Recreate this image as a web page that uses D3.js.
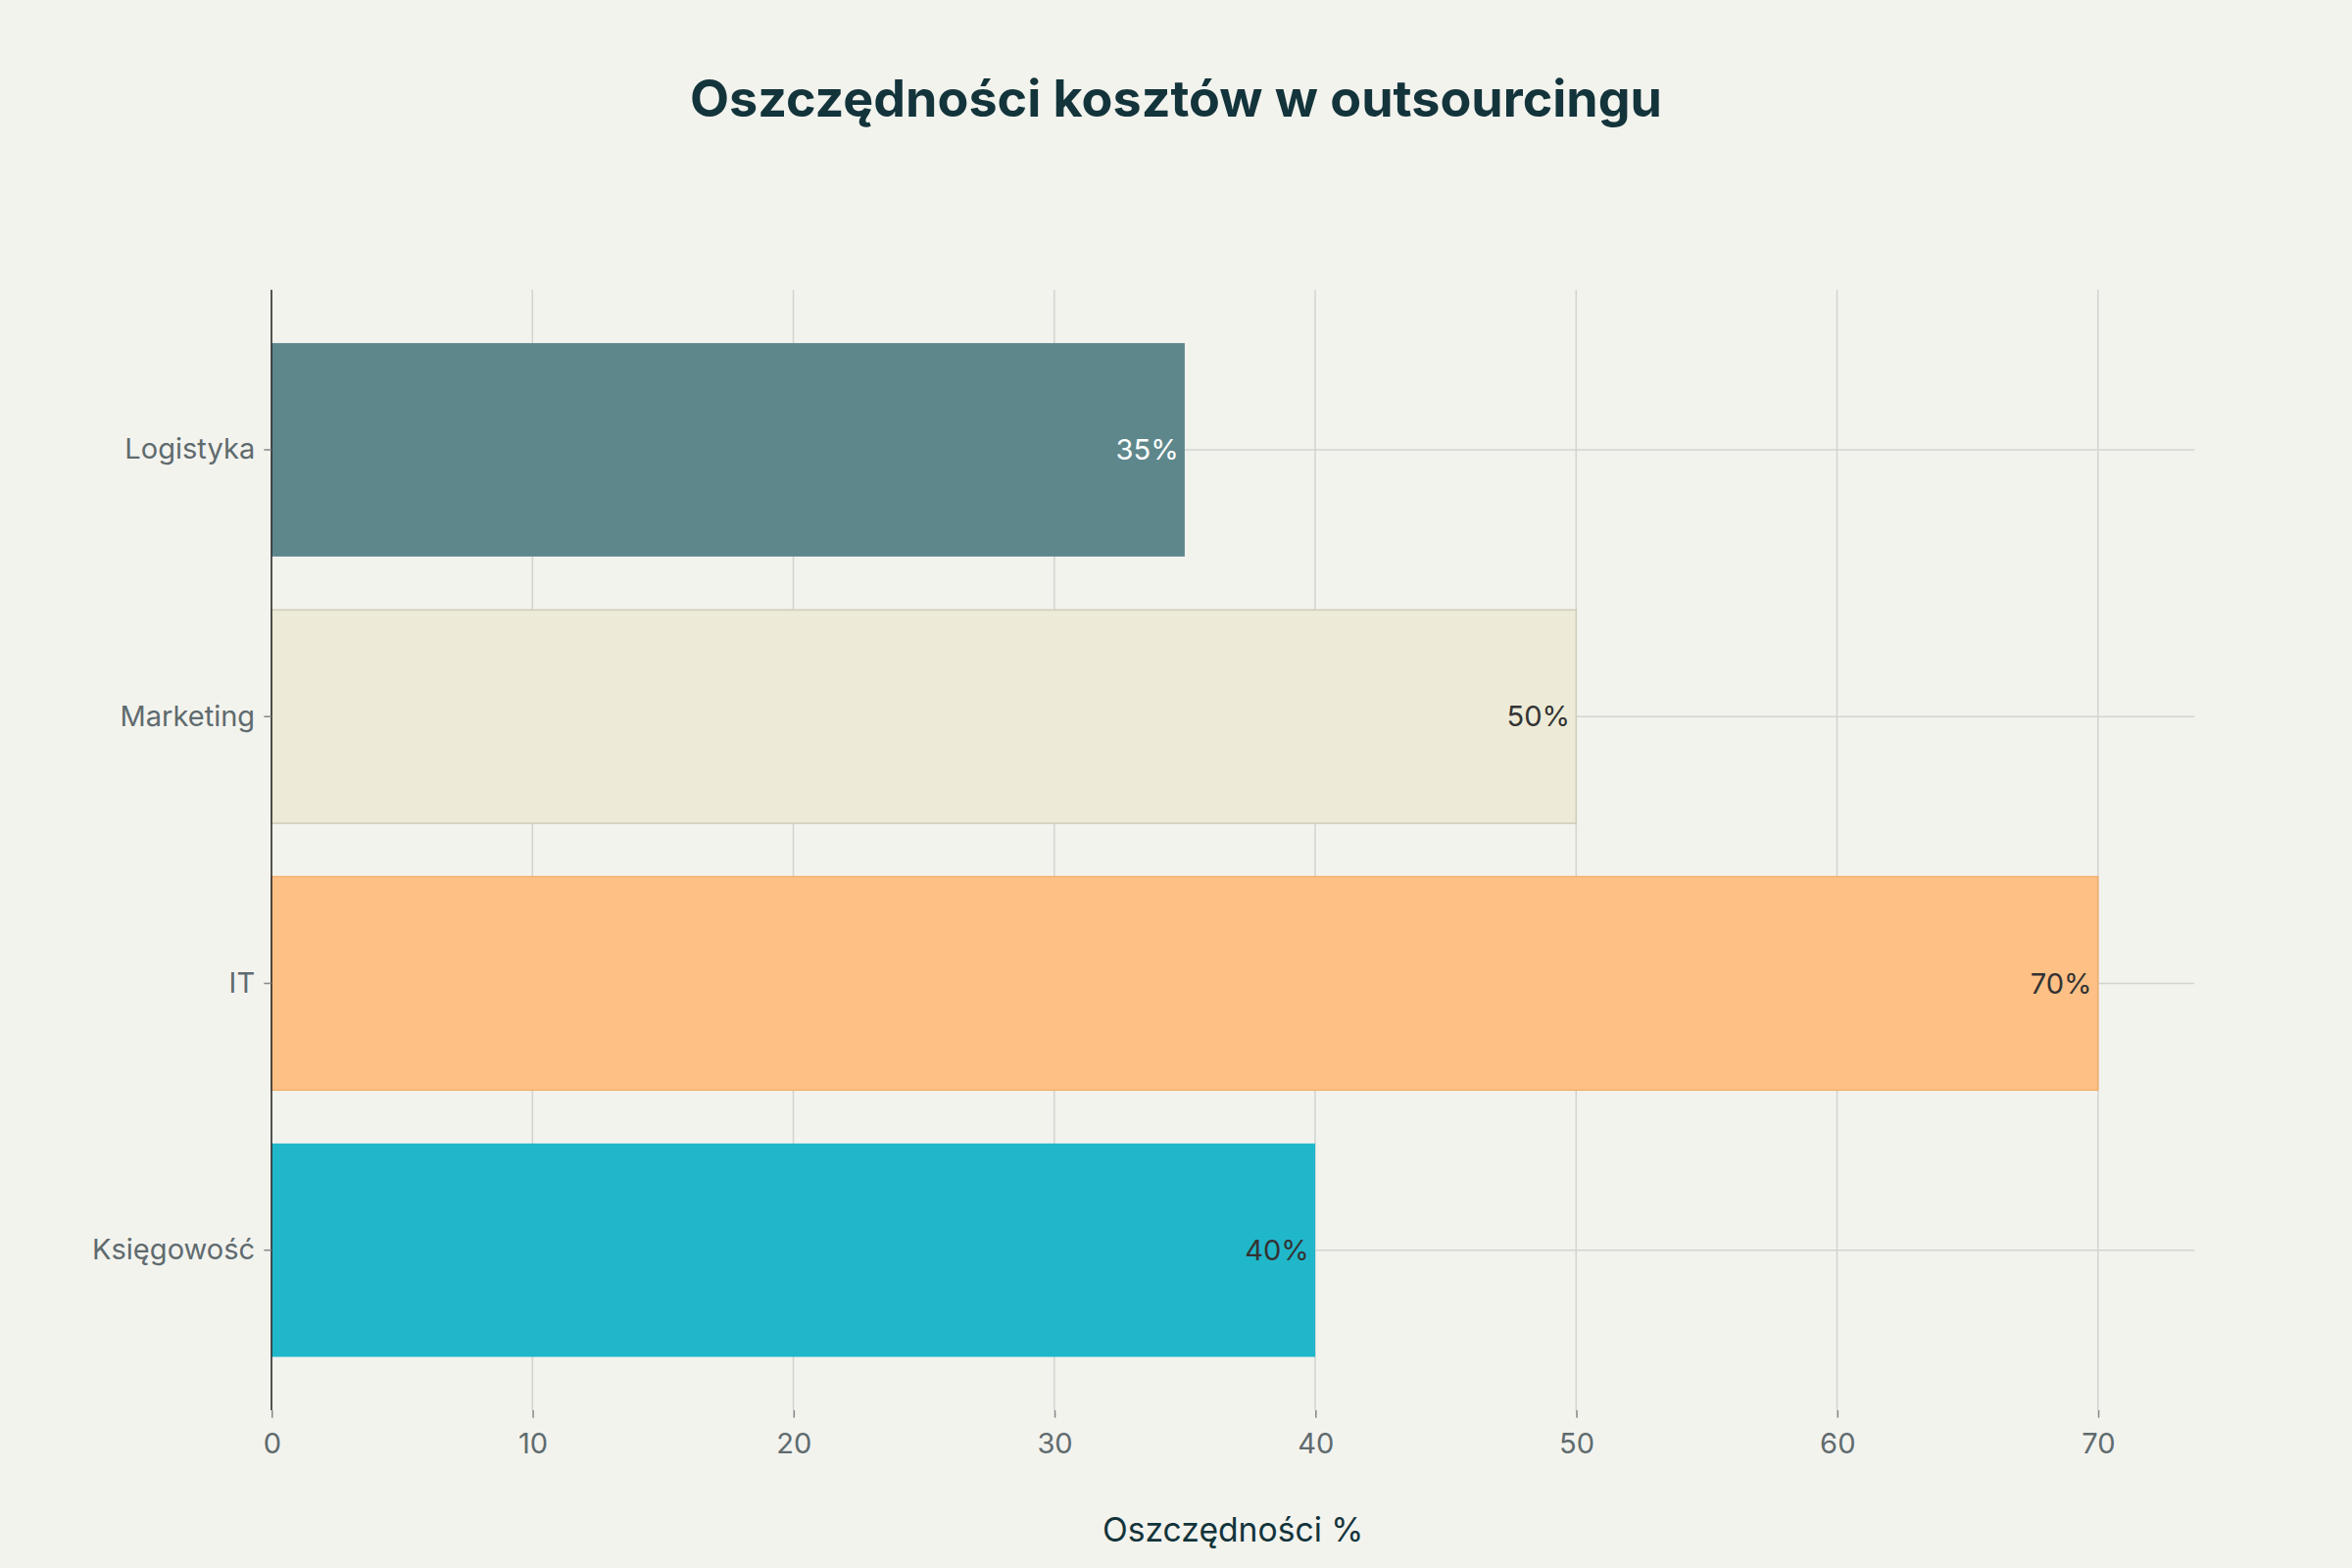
<!DOCTYPE html>
<html><head><meta charset="utf-8">
<script src="https://cdn.jsdelivr.net/npm/d3@7"></script>
<style>html,body{margin:0;padding:0;background:#F3F3EE;}</style>
</head><body>
<svg id="c" width="2400" height="1600" viewBox="0 0 1568 1045"></svg>
<script>
const categories = ["Logistyka","Marketing","IT","Księgowość"];
const values = [35,50,70,40];
const colors = ["#5E878C","#EDEBD7","#FFC085","#21B7CB"];
const labelColors = ["#ffffff","#333333","#333333","#333333"];
const xTicks = [0,10,20,30,40,50,60,70];

const svg = d3.select("#c");
const font = "'Inter','Liberation Sans',sans-serif";
svg.append("rect").attr("width",1568).attr("height",1045).attr("fill","#F3F3EE");
const L=181,R=1463,T=193,B=940;
const x = d3.scaleLinear().domain([0,73.7]).range([L,R]);
const y = d3.scaleBand().domain(categories).range([T,B]).padding(0.2);

const g = svg.append("g");
g.selectAll(".vg").data(xTicks.slice(1)).join("line")
 .attr("x1",d=>x(d)).attr("x2",d=>x(d)).attr("y1",T).attr("y2",B)
 .attr("stroke","#d3d3d0").attr("stroke-width",1);
g.selectAll(".hg").data(categories).join("line")
 .attr("x1",L).attr("x2",R).attr("y1",d=>y(d)+y.bandwidth()/2).attr("y2",d=>y(d)+y.bandwidth()/2)
 .attr("stroke","#d3d3d0").attr("stroke-width",1);

g.selectAll(".bar").data(categories).join("rect")
 .attr("x",x(0)).attr("y",d=>y(d)).attr("height",y.bandwidth())
 .attr("width",(d,i)=>x(values[i])-x(0))
 .attr("fill",(d,i)=>colors[i])
 .attr("stroke",(d,i)=>i===1?"#cfccb8":(i===2?"#f0b070":"none")).attr("stroke-width",1);

g.selectAll(".lbl").data(categories).join("text")
 .attr("x",(d,i)=>x(values[i])-4).attr("y",d=>y(d)+y.bandwidth()/2)
 .attr("dy","0.35em").attr("text-anchor","end")
 .attr("font-family",font).attr("font-size",19)
 .attr("fill",(d,i)=>labelColors[i]).text((d,i)=>values[i]+"%");

g.append("line").attr("x1",L).attr("x2",L).attr("y1",T).attr("y2",B).attr("stroke","#222").attr("stroke-width",1);

const xa = svg.append("g").attr("transform",`translate(0,${B})`)
 .call(d3.axisBottom(x).tickValues(xTicks).tickSize(5).tickPadding(10));
xa.select(".domain").remove();
xa.selectAll("line").attr("stroke","#888");
xa.selectAll("text").attr("font-family",font).attr("font-size",19).attr("fill","#5f6b6e");

const ya = svg.append("g").attr("transform",`translate(${L},0)`)
 .call(d3.axisLeft(y).tickSize(5).tickPadding(6));
ya.select(".domain").remove();
ya.selectAll("line").attr("stroke","#888");
ya.selectAll("text").attr("font-family",font).attr("font-size",19).attr("fill","#5f6b6e");

svg.append("text").attr("x",784).attr("y",66).attr("dy","0.35em").attr("text-anchor","middle")
 .attr("font-family",font).attr("font-size",34).attr("font-weight",700).attr("fill","#13343B")
 .text("Oszczędności kosztów w outsourcingu");
svg.append("text").attr("x",822).attr("y",1020).attr("dy","0.35em").attr("text-anchor","middle")
 .attr("font-family",font).attr("font-size",22).attr("fill","#13343B")
 .text("Oszczędności %");
</script>
</body></html>
